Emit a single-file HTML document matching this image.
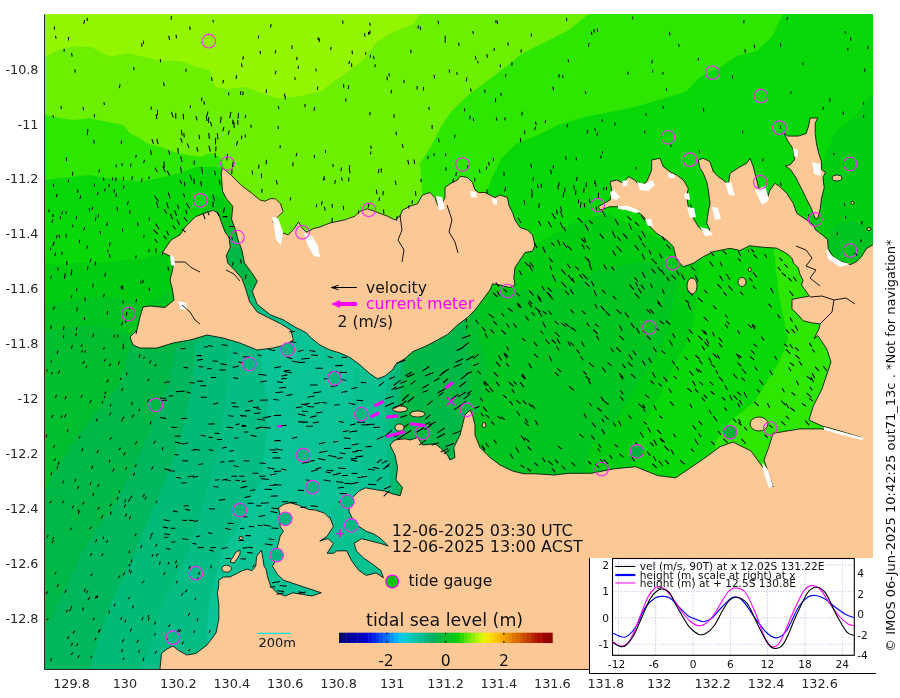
<!DOCTYPE html>
<html><head><meta charset="utf-8"><style>
html,body{margin:0;padding:0;background:#fff;width:900px;height:698px;overflow:hidden}
svg{display:block}
</style></head><body>
<svg width="900" height="698" viewBox="0 0 900 698">
<defs><clipPath id="pc"><rect x="45" y="14" width="828" height="655"/></clipPath></defs>
<g clip-path="url(#pc)">
<rect x="45" y="14" width="828" height="655" fill="#08d808"/>
<polygon fill="#2ee700" points="45.0,14.0 783.0,14.0 772.7,35.6 757.3,50.9 737.0,56.0 721.6,66.2 701.0,76.4 685.8,91.8 660.0,99.4 634.7,107.0 609.0,112.2 583.6,117.3 558.0,125.0 537.6,135.2 517.0,142.9 501.8,158.2 491.6,178.7 486.4,194.0 480.0,205.0 440.0,225.0 300.0,250.0 240.0,200.0 225.0,172.0 221.7,168.0 213.3,166.7 196.7,166.7 180.0,173.3 150.0,180.0 140.0,181.7 123.3,180.0 106.7,178.3 90.0,175.0 73.3,176.7 60.0,178.3 45.0,180.0"/>
<polygon fill="#6cef00" points="45.0,14.0 588.7,14.0 568.0,30.4 547.8,40.7 522.0,53.4 507.0,66.0 486.4,81.6 466.0,96.9 450.7,112.2 440.4,127.6 430.2,148.0 420.0,163.3 422.5,195.0 420.0,215.0 330.0,235.0 290.0,245.0 260.0,215.0 235.0,190.0 223.3,166.0 220.0,156.7 210.0,153.3 200.0,156.7 186.7,155.0 173.3,151.7 160.0,146.7 146.7,143.3 140.0,138.3 130.0,133.3 123.3,125.0 106.7,121.7 90.0,118.3 73.3,120.0 60.0,118.3 45.0,115.0"/>
<polygon fill="#94f500" points="45.0,14.0 420.0,14.0 413.0,24.0 394.7,31.0 376.0,42.7 362.0,61.0 343.0,75.0 320.0,91.7 301.0,96.0 278.0,98.7 264.0,94.0 245.0,87.0 226.7,89.0 215.0,87.0 210.0,70.7 194.0,66.0 180.0,61.0 161.0,61.0 142.7,56.7 128.7,53.0 110.0,56.7 91.0,47.0 72.7,46.4 58.7,49.7 45.0,56.7"/>
<polygon fill="#00cd12" points="45.0,264.0 101.8,262.4 145.0,258.0 165.0,250.0 202.0,212.0 212.0,194.0 225.0,200.0 300.0,260.0 480.0,260.0 536.0,245.0 572.7,223.0 607.0,213.0 650.0,235.0 700.0,250.0 760.0,240.0 800.0,235.0 818.0,200.0 825.0,156.0 835.0,132.4 855.4,115.5 873.0,91.8 873.0,669.0 45.0,669.0"/>
<polygon fill="#00c41f" points="45.0,304.5 62.6,302.6 81.2,298.9 99.9,296.1 118.5,298.0 131.5,300.8 142.7,306.4 170.0,290.0 210.0,228.0 224.0,219.0 240.0,214.0 400.0,300.0 510.0,290.0 540.0,290.0 575.0,285.0 600.0,268.0 640.0,262.0 680.0,262.0 677.0,291.6 673.5,326.0 663.2,360.4 646.0,394.8 632.2,429.2 628.8,480.0 628.8,669.0 45.0,669.0"/>
<polygon fill="#00bf2f" points="45.0,330.6 62.6,328.7 81.2,325.0 99.9,326.8 118.5,330.6 129.7,334.3 160.0,320.0 200.0,290.0 215.0,240.0 228.0,227.0 245.0,225.0 300.0,290.0 400.0,320.0 460.0,300.0 478.0,312.0 479.0,340.0 490.0,373.0 472.0,424.0 472.0,669.0 45.0,669.0"/>
<polygon fill="#00b846" points="45.0,490.0 50.0,480.0 73.0,442.0 120.0,382.0 130.0,345.0 150.0,310.0 200.0,300.0 220.0,250.0 230.0,236.0 245.0,236.0 300.0,300.0 440.0,320.0 465.0,318.0 470.0,360.0 470.0,400.0 471.0,424.0 470.0,669.0 45.0,669.0"/>
<polygon fill="#00b75e" points="44.0,630.0 55.0,610.0 82.0,552.0 116.0,502.0 145.0,442.0 168.5,382.0 175.0,350.0 200.0,320.0 235.0,287.0 258.0,285.0 300.0,310.0 400.0,330.0 406.0,355.0 402.0,400.0 400.0,445.0 400.0,669.0 44.0,669.0"/>
<polygon fill="#00bb75" points="90.0,669.0 108.0,610.0 135.0,552.0 156.0,502.0 180.0,442.0 193.0,382.0 195.0,343.0 220.0,330.0 240.0,300.0 262.0,296.0 330.0,330.0 398.0,345.0 402.0,358.0 398.0,400.0 396.0,440.0 396.0,669.0"/>
<polygon fill="#04bd85" points="140.0,669.0 150.0,650.0 160.0,610.0 188.0,552.0 204.0,502.0 220.0,442.0 227.6,382.0 228.0,342.0 250.0,315.0 262.0,309.0 275.0,312.0 350.0,345.0 395.0,350.0 394.0,366.0 390.0,400.0 390.0,440.0 392.0,669.0"/>
<polygon fill="#08c190" points="207.0,645.0 208.0,610.0 222.0,552.0 240.0,525.0 249.0,502.0 257.0,490.0 262.0,478.0 266.7,431.7 268.0,400.0 264.4,385.9 259.8,346.9 275.0,322.0 290.0,318.0 357.0,350.0 392.0,355.0 392.0,366.0 386.0,384.0 383.0,433.0 390.0,473.0 380.0,600.0 225.0,640.0"/>
<polygon fill="#0ac495" points="207.0,645.0 208.0,610.0 222.0,552.0 240.0,525.0 249.0,502.0 257.0,490.0 262.0,478.0 266.7,431.7 268.0,400.0 264.4,385.9 259.8,346.9 275.0,322.0 290.0,318.0 357.0,350.0 355.0,357.0 352.0,409.0 358.0,455.0 367.0,478.0 375.0,495.0 350.0,600.0 225.0,640.0"/>
<polygon fill="#00c41f" points="822.0,250.0 829.4,234.2 837.1,223.9 852.6,221.3 868.0,226.5 874.0,223.9 874.0,270.0 822.0,270.0"/>
<polygon fill="#00cd12" points="682.0,245.0 680.0,255.0 676.0,291.6 669.0,326.0 658.8,353.5 641.6,377.6 631.3,394.7 617.5,418.8 600.3,439.4 590.0,446.3 585.0,480.0 860.0,480.0 860.0,300.0 815.0,260.0 760.0,240.0"/>
<polygon fill="#08d808" points="702.0,245.0 700.0,250.0 698.0,300.0 690.0,335.0 675.0,365.0 660.0,395.0 645.0,425.0 635.0,450.0 630.0,480.0 860.0,480.0 860.0,300.0 815.0,260.0 760.0,240.0"/>
<polygon fill="#2ee700" points="772.0,240.0 773.7,248.7 778.4,291.6 788.0,339.4 778.4,363.3 754.6,401.6 730.7,420.7 716.3,439.8 711.6,480.0 860.0,480.0 860.0,300.0 815.0,260.0"/>
<g fill="#fcc996" stroke="#000" stroke-width="0.8" stroke-linejoin="round">
<polygon points="213.5,210.3 205.8,212.8 195.5,216.7 190.3,221.9 185.2,227.0 180.0,234.8 171.0,240.0 167.5,245.0 162.5,252.5 170.0,256.0 174.0,261.0 172.5,270.0 170.0,280.0 172.5,290.0 174.0,300.0 165.0,307.5 150.0,306.0 143.0,307.0 140.0,317.0 137.0,330.0 130.0,337.0 133.0,345.0 140.0,348.0 157.0,348.0 173.0,343.0 190.0,340.0 207.0,335.0 223.0,338.0 240.0,343.0 257.0,350.0 273.0,348.0 285.0,345.0 293.4,340.0 290.9,330.1 280.5,323.7 267.7,317.3 257.3,312.1 249.6,301.8 245.7,288.9 241.9,278.6 235.4,270.9 227.7,263.1 226.4,255.4 230.3,247.7 229.0,237.3 225.1,232.2 221.2,221.9 218.7,214.1"/>
<polygon points="222.5,167.7 231.6,175.5 241.9,185.8 252.2,193.5 259.9,200.0 265.0,201.2 270.2,198.7 275.4,198.7 280.5,203.8 283.1,211.6 278.0,216.7 272.8,221.9 280.5,232.2 288.3,234.8 293.4,229.6 298.6,221.9 301.2,227.0 306.3,232.2 314.1,228.3 320.0,227.0 330.0,223.0 344.0,220.0 347.5,218.8 355.0,216.2 360.0,211.2 367.5,208.8 377.5,212.5 387.5,216.2 395.0,220.0 400.0,216.2 402.5,210.0 410.0,206.2 417.5,203.8 422.5,195.0 430.0,192.5 435.0,197.5 437.5,205.0 440.0,207.5 445.0,197.5 445.0,187.5 450.0,183.8 457.5,180.0 460.0,176.2 467.5,177.5 472.5,182.5 475.0,190.0 478.8,192.5 485.0,192.5 490.0,195.0 495.0,197.5 500.0,195.0 507.5,197.5 508.8,205.0 512.5,212.5 515.0,220.0 520.0,227.5 527.5,230.0 532.5,235.0 535.0,245.0 532.5,251.2 525.0,252.5 520.0,260.0 515.0,267.5 513.8,277.5 515.0,285.0 510.0,287.5 500.0,285.0 492.5,283.8 490.0,290.0 482.5,300.0 475.0,310.0 467.5,317.5 457.5,325.0 447.5,334.5 437.5,340.0 425.0,346.5 413.0,351.5 405.0,358.5 396.0,364.0 392.5,370.0 385.0,376.0 377.5,378.8 370.0,373.8 360.0,365.0 350.0,357.5 340.0,353.0 330.0,350.0 320.0,345.0 310.0,337.0 306.3,332.7 296.0,327.6 283.1,319.8 270.2,314.7 257.3,304.4 252.2,291.5 257.3,281.2 252.2,273.4 244.5,263.1 241.9,250.2 238.0,239.9 235.4,229.6 231.6,219.3 232.8,206.4 226.4,198.7 222.5,191.0 221.2,172.9"/>
<polygon points="160.0,669.0 161.5,653.4 167.0,649.0 173.0,646.0 178.7,650.6 187.0,655.0 196.0,653.4 207.0,645.0 216.0,633.0 218.8,619.0 218.8,604.7 217.4,593.0 218.8,584.6 218.7,580.2 223.5,577.0 229.8,577.0 236.1,573.9 242.4,570.7 247.1,569.1 251.9,570.7 255.8,566.0 256.6,556.5 261.3,550.2 262.9,558.1 264.0,566.0 266.0,569.1 267.6,577.0 270.8,586.5 277.1,592.8 285.0,596.0 292.9,592.8 302.3,594.4 311.8,596.0 321.3,592.8 311.8,589.6 302.3,586.5 292.9,583.3 283.4,580.2 277.1,573.9 272.4,566.0 277.1,558.1 277.1,548.6 278.7,542.3 280.2,536.0 283.4,531.3 280.2,526.5 279.5,513.9 278.7,507.6 283.9,504.3 290.2,502.8 298.7,505.3 309.2,509.6 315.0,510.0 324.5,513.1 329.2,517.8 346.5,503.6 352.8,497.3 359.1,491.0 365.4,487.9 374.9,489.5 384.4,491.0 393.8,494.2 400.1,495.8 402.5,487.5 396.0,480.0 397.5,467.5 395.0,455.0 390.0,445.0 395.0,440.0 405.0,438.8 410.0,440.0 417.5,437.5 422.5,445.0 435.0,443.8 440.0,447.5 447.5,455.0 450.0,460.0 455.0,457.5 453.8,447.5 460.0,435.0 462.5,425.0 465.0,415.0 470.0,410.0 472.5,415.0 475.0,425.0 475.0,435.0 480.0,447.5 490.0,457.5 500.0,465.0 512.5,471.0 524.0,473.8 535.0,473.8 554.0,475.0 569.0,473.3 591.0,473.3 613.0,469.0 635.6,466.7 657.8,475.6 675.6,477.8 702.0,460.0 720.0,446.7 733.0,442.0 751.0,451.0 764.0,468.9 773.0,486.7 764.0,460.0 769.0,446.7 773.0,433.3 800.0,428.9 822.0,428.9 840.0,433.3 862.0,437.8 840.0,431.0 822.0,426.0 809.0,420.0 813.0,406.7 822.0,388.9 831.0,362.0 826.7,348.9 817.8,335.6 814.1,338.8 818.8,329.3 820.4,323.8 812.5,323.0 803.0,320.7 798.3,315.1 792.0,308.8 792.0,299.4 799.9,297.8 809.4,296.2 806.2,291.5 801.5,285.2 803.0,280.4 799.9,274.1 798.3,267.8 793.6,263.1 792.0,258.4 788.9,255.2 784.1,252.0 776.3,248.1 763.6,247.3 749.5,245.8 740.0,250.5 730.0,248.3 713.3,251.7 703.3,256.7 693.3,263.3 683.3,266.7 676.7,260.0 673.3,246.7 666.7,240.0 656.7,233.3 650.0,226.7 646.7,220.0 640.0,213.3 630.0,210.0 620.0,206.7 610.0,206.7 600.0,210.0 598.3,206.7 610.0,200.0 611.7,190.0 610.0,181.7 616.7,180.0 623.3,183.3 628.3,176.7 635.0,180.0 640.0,186.7 646.7,181.7 651.7,170.0 651.7,160.0 660.0,158.3 663.3,166.7 670.0,171.7 676.7,175.0 683.3,180.0 688.3,188.3 686.7,196.7 688.3,206.7 691.7,211.7 693.3,218.3 698.3,226.7 705.0,233.3 710.0,230.0 706.7,223.3 708.3,211.7 710.0,203.3 708.3,190.0 706.7,181.7 703.3,173.3 700.0,168.3 698.3,160.0 703.3,158.3 710.0,161.7 713.3,171.7 718.3,176.7 723.3,180.0 728.3,185.0 730.0,173.3 735.0,170.0 740.0,166.7 746.7,163.3 750.0,158.3 753.3,166.7 756.7,180.0 760.0,193.3 761.7,203.3 766.7,200.0 770.0,190.0 775.0,183.3 780.0,186.7 786.7,193.3 793.3,203.3 796.7,213.3 806.7,220.0 813.3,225.0 815.7,230.0 822.0,234.7 827.5,239.5 828.3,248.9 833.0,256.8 840.9,261.5 850.4,264.7 856.7,261.5 861.4,256.8 866.1,248.9 872.4,245.0 874.0,245.0 874.0,670.0 160.0,670.0"/>
<polygon points="810.0,118.0 817.7,118.0 815.2,123.2 815.2,133.5 816.5,143.9 819.0,154.2 821.6,161.9 821.6,169.7 825.5,172.3 822.9,177.4 824.2,187.7 821.6,198.1 820.3,208.4 817.7,218.7 815.2,218.7 811.3,208.4 806.1,198.1 801.0,187.7 795.8,177.4 790.6,169.7 785.5,165.8 790.6,164.5 794.5,159.4 793.2,149.0 788.0,141.3 784.2,133.5 788.0,136.1 798.4,136.1 806.1,133.5 808.7,125.8"/>
<polygon points="230.0,562.0 233.0,557.0 236.0,552.0 240.0,550.0 240.0,554.0 237.0,559.0 234.0,563.0"/>
<ellipse cx="226.6" cy="568.7" rx="4.8" ry="3.5"/>
<ellipse cx="241" cy="538" rx="2" ry="1.5"/>
<ellipse cx="852.5" cy="202.7" rx="1.5" ry="1.5"/>
<ellipse cx="869" cy="229" rx="2" ry="1.5"/>
<ellipse cx="749.8" cy="269.6" rx="1.5" ry="2"/>
<ellipse cx="400" cy="409" rx="7.5" ry="3"/>
<ellipse cx="417.5" cy="414" rx="7.5" ry="3"/>
<ellipse cx="399.5" cy="427.5" rx="4.5" ry="3.5"/>
<ellipse cx="484" cy="425" rx="2" ry="2.5"/>
<ellipse cx="692" cy="286" rx="5" ry="8"/>
<ellipse cx="742" cy="282" rx="4" ry="4.5"/>
<ellipse cx="759" cy="424" rx="9" ry="7"/>
<ellipse cx="837" cy="178" rx="5" ry="3"/>
</g>
<polygon fill="#08c190" points="329.6,516.7 333.3,526.5 327.1,536.2 319.8,541.1 328.0,538.5 333.3,543.6 327.1,553.3 333.3,553.3 336.9,550.9 346.7,550.9 351.6,560.7 358.9,570.5 366.3,575.4 376.0,572.9 383.4,577.8 380.9,570.5 371.1,563.1 363.8,558.2 356.5,550.9 354.0,543.6 361.4,538.7 371.1,541.1 380.9,543.6 388.3,546.0 380.9,538.7 373.6,533.8 366.3,531.3 358.9,526.5 354.0,521.6 349.1,511.8 349.1,503.2 347.0,499.0 338.0,502.0 327.0,512.0"/>
<polyline fill="none" stroke="#000" stroke-width="0.8" points="329.6,516.7 333.3,526.5 327.1,536.2 319.8,541.1 328.0,538.5 333.3,543.6 327.1,553.3 333.3,553.3 336.9,550.9 346.7,550.9 351.6,560.7 358.9,570.5 366.3,575.4 376.0,572.9 383.4,577.8 380.9,570.5 371.1,563.1 363.8,558.2 356.5,550.9 354.0,543.6 361.4,538.7 371.1,541.1 380.9,543.6 388.3,546.0 380.9,538.7 373.6,533.8 366.3,531.3 358.9,526.5 354.0,521.6 349.1,511.8 349.1,503.2"/>
<path d="M84.6 20.6L83.9 23.3M87.1 18.4L87.4 20.3M171.3 16.6L171.2 19.2M342.7 20.9L343.0 23.2M497.5 21.3L497.4 23.5M632.9 17.2L632.7 18.8M787.3 17.8L787.1 19.2M54.4 27.0L54.3 29.2M189.7 26.9L190.1 29.4M213.0 20.4L213.3 22.0M271.1 24.7L270.6 27.2M370.0 30.8L369.8 33.4M369.8 23.2L370.1 25.3M418.4 26.0L418.0 28.1M438.1 21.1L438.5 23.7M495.9 20.6L495.9 22.4M566.5 18.4L566.7 20.6M597.2 29.0L597.7 31.6M743.9 20.6L743.8 22.6M55.6 36.4L56.0 38.2M176.1 35.3L176.4 37.8M368.6 32.4L368.8 34.5M420.2 27.0L420.5 29.3M472.8 31.6L473.3 33.4M591.4 32.2L591.8 34.4M669.4 32.5L670.0 34.9M68.6 37.5L68.4 40.0M143.4 41.3L143.5 43.4M141.8 43.7L141.8 46.3M168.8 36.5L169.5 39.3M258.6 36.0L258.4 38.0M318.1 37.8L318.2 39.7M364.5 33.7L365.0 36.1M445.2 40.1L445.3 42.2M445.2 36.2L445.2 38.6M507.9 42.9L508.3 45.1M531.4 34.0L531.3 36.1M593.8 29.6L594.3 32.1M845.0 31.7L845.3 33.2M850.6 37.8L850.9 40.2M64.2 49.4L64.1 51.3M275.7 50.5L275.2 53.0M292.1 45.9L292.0 48.5M319.2 38.7L319.4 41.4M458.8 43.3L458.9 45.3M521.3 49.9L521.1 52.1M589.0 43.6L588.5 46.3M678.8 44.6L679.1 46.3M780.5 43.8L780.6 46.2M868.2 46.5L867.7 48.7M71.6 53.6L72.1 56.2M331.1 47.3L330.7 49.4M365.8 52.6L365.5 54.3M370.5 55.4L370.3 57.1M410.9 50.3L410.9 52.6M475.4 56.5L476.0 59.1M486.9 54.6L487.4 57.1M494.3 48.5L494.1 50.4M754.3 45.3L754.6 47.6M847.8 48.3L847.8 50.0M243.3 56.8L242.9 59.1M260.2 51.3L260.4 53.6M352.1 51.1L352.4 53.6M373.6 56.7L374.1 58.7M512.0 62.4L511.9 65.1M652.3 60.5L651.9 62.8M745.0 49.7L745.2 52.2M74.9 70.0L75.3 72.1M160.3 59.6L160.6 61.7M186.0 69.2L186.0 71.3M241.5 63.9L242.1 66.7M298.4 66.4L298.2 68.2M297.0 57.4L296.7 59.5M315.8 69.0L316.2 70.9M349.5 61.3L349.0 63.6M477.7 61.4L478.1 62.9M568.2 59.9L568.5 61.6M662.9 72.5L663.0 74.0M698.5 58.3L698.1 60.2M133.8 67.6L133.9 69.7M275.9 71.1L275.3 73.7M351.6 63.8L351.7 66.6M375.2 64.8L375.0 66.7M389.0 73.8L389.3 75.8M449.3 70.1L449.5 72.1M500.3 64.9L500.3 66.6M559.2 74.7L558.9 77.1M562.8 75.4L562.8 77.5M802.9 63.0L803.0 64.6M211.6 77.6L212.1 80.3M223.4 80.4L222.9 83.0M236.5 75.8L236.3 77.4M294.9 77.7L295.1 79.3M387.2 77.0L387.2 79.6M404.1 80.4L404.0 82.6M434.1 75.4L434.6 78.1M456.8 72.7L457.1 74.3M505.8 74.5L505.5 76.6M628.1 72.2L628.1 74.0M652.7 70.3L652.6 71.9M864.9 69.1L864.8 71.3M236.4 76.6L236.1 78.5M417.1 86.6L417.1 88.9M466.8 78.1L466.3 80.9M732.6 76.1L732.5 78.3M120.0 84.9L119.4 87.7M163.6 82.9L164.2 85.7M228.6 92.9L228.7 94.8M243.1 92.0L242.9 94.8M266.4 89.7L266.2 92.4M317.7 87.0L317.4 89.5M343.6 84.4L343.7 87.1M348.7 85.9L348.3 88.6M391.4 90.4L391.1 92.8M423.5 87.5L423.4 89.9M470.6 88.9L471.1 91.2M484.9 90.1L484.8 92.3M552.9 87.1L553.4 89.8M585.4 91.8L585.7 93.5M666.5 88.8L666.5 90.2M790.9 91.7L791.0 93.5M104.0 102.6L104.3 104.5M203.9 101.8L204.4 104.2M240.8 91.6L240.6 94.5M284.6 94.1L284.3 95.8M285.4 96.3L285.1 98.8M345.8 99.0L345.8 100.9M501.0 93.6L501.1 95.2M829.8 98.8L830.0 101.3M83.1 107.5L83.5 109.9M151.1 107.1L151.3 109.1M201.9 98.0L201.6 100.6M278.4 106.7L278.9 108.7M305.0 104.6L305.0 106.8M464.6 108.7L464.6 110.8M495.6 98.9L495.5 101.6M703.4 108.6L703.7 111.1M823.2 107.5L823.2 109.2M863.3 102.8L863.2 104.3M61.0 106.5L61.3 108.4M94.3 114.8L94.5 116.8M157.5 110.3L157.5 114.7M190.3 105.9L190.4 107.5M207.8 112.0L207.2 115.2M238.5 113.6L238.0 118.2M314.6 107.6L314.0 110.3M428.8 107.4L429.2 109.3M522.2 112.3L521.9 115.0M663.3 106.4L663.2 108.1M53.1 115.6L53.5 117.3M156.2 114.9L156.8 118.6M171.5 112.4L173.1 116.9M175.7 113.4L175.8 118.2M183.1 114.3L183.6 118.9M196.0 116.6L197.0 119.9M206.4 115.7L206.9 120.5M208.6 117.7L208.7 122.4M221.1 117.2L220.5 122.5M230.9 112.4L229.8 117.6M237.8 120.6L237.9 124.3M245.7 115.5L245.3 117.3M370.0 112.6L369.8 115.0M393.9 114.7L394.2 117.2M470.2 116.2L469.8 118.7M496.4 118.2L496.9 120.1M505.2 117.8L504.8 119.8M535.6 122.1L536.1 124.4M843.2 112.0L843.5 114.4M863.6 115.8L863.6 117.3M210.7 122.3L211.5 126.0M232.9 120.3L232.8 123.6M233.8 122.3L234.2 127.6M250.9 125.2L251.2 127.1M473.3 118.6L473.6 120.3M535.4 127.2L534.8 129.5M545.6 120.7L545.2 122.7M567.5 124.6L567.0 126.9M594.9 128.3L595.3 130.6M602.3 119.9L602.1 121.4M614.9 123.0L614.9 124.8M646.0 113.5L646.2 115.3M87.4 132.9L87.3 134.6M181.4 130.3L182.1 135.1M223.8 127.3L223.0 130.7M229.2 130.8L228.4 134.0M245.3 135.0L245.4 137.0M278.1 126.5L278.3 128.5M432.1 125.6L432.1 128.4M524.7 131.1L524.6 133.8M742.6 131.0L742.6 132.6M780.3 126.1L780.7 128.5M87.7 129.4L87.7 131.4M93.9 140.4L94.1 143.0M121.4 141.0L121.4 143.4M183.9 133.5L184.2 137.0M199.1 135.3L199.6 138.6M208.8 133.5L209.3 138.5M217.3 133.8L217.9 139.0M241.8 136.1L241.5 138.7M396.0 132.1L396.4 134.6M438.5 138.9L439.1 141.6M454.9 135.0L454.8 137.2M587.7 130.4L587.2 133.2M644.8 131.3L644.6 132.9M152.1 139.6L153.3 143.3M157.0 139.4L157.9 143.6M180.8 138.7L182.2 142.1M187.4 144.0L188.8 147.2M215.6 138.4L215.5 143.9M237.4 141.7L236.5 145.0M280.2 145.8L280.1 147.8M520.5 138.8L520.6 141.7M597.6 132.6L597.1 135.2M670.9 145.1L670.9 146.5M150.6 150.3L151.4 154.4M168.7 150.9L169.7 154.1M177.9 148.4L178.3 152.9M196.9 147.7L197.8 151.0M209.0 146.1L210.2 151.2M216.0 147.1L215.7 150.8M370.9 146.1L371.1 148.2M402.4 144.6L403.0 147.3M434.2 153.6L434.0 155.3M602.4 151.7L602.5 153.1M699.3 150.6L699.5 152.1M136.2 155.4L135.8 157.2M180.7 157.0L181.9 161.3M214.9 153.4L215.7 157.2M227.5 154.6L226.8 159.9M266.4 160.2L266.2 163.7M296.8 153.5L296.2 155.8M314.4 155.4L314.5 157.6M325.5 150.6L325.5 152.5M370.9 152.0L370.5 153.9M414.1 160.0L414.6 163.3M428.1 156.6L427.8 158.6M445.6 153.7L445.7 155.7M565.7 156.7L566.1 159.2M762.9 159.0L762.7 160.9M66.4 157.8L66.5 160.6M144.4 160.4L143.7 162.6M164.0 161.9L164.2 167.3M194.2 160.9L194.2 164.3M233.1 162.0L232.6 166.6M407.9 160.4L408.6 163.9M468.0 165.7L467.7 168.3M488.8 162.6L489.1 165.0M493.4 158.6L493.3 160.8M530.9 164.1L531.5 167.6M553.5 165.6L553.3 168.1M576.2 157.9L576.4 159.9M601.1 156.0L600.8 157.9M834.1 153.3L833.7 154.7M99.5 169.8L99.0 172.1M116.2 165.0L116.2 166.8M122.1 163.7L122.1 165.5M130.9 164.2L130.6 166.3M155.2 168.3L157.1 171.6M163.0 166.7L165.0 171.5M180.5 167.1L181.6 172.7M201.5 167.7L202.6 173.1M232.0 170.1L231.7 173.6M252.1 171.0L252.6 173.9M259.0 165.1L258.7 168.0M293.0 162.8L292.9 165.7M332.9 164.4L333.1 166.5M341.5 168.0L341.1 170.7M349.7 165.9L349.3 168.4M381.3 168.8L381.2 171.9M445.8 167.7L446.0 170.0M486.8 167.1L486.4 169.2M503.9 172.2L504.1 175.1M72.7 172.3L72.6 175.0M103.5 178.2L103.8 180.2M112.7 178.1L112.6 179.8M123.5 177.3L123.4 180.2M132.3 176.9L131.9 179.6M149.3 177.0L148.8 178.7M167.3 171.1L169.4 174.9M190.2 175.4L191.7 179.7M214.6 171.1L215.4 174.7M261.5 174.0L261.6 177.5M324.2 176.6L323.4 180.1M341.5 177.9L342.2 180.4M349.4 169.2L349.9 172.8M378.8 169.6L378.4 172.6M453.6 178.5L452.9 182.1M456.3 172.7L456.0 175.5M479.3 169.9L479.9 172.3M533.5 178.0L533.1 180.3M550.7 170.2L551.2 173.8M635.8 167.4L636.1 169.0M780.7 182.9L781.1 185.1M53.4 184.4L53.6 186.2M68.3 180.1L68.5 181.7M94.4 184.0L94.4 186.1M116.1 177.9L115.7 180.7M142.0 179.0L141.3 181.6M180.1 180.3L181.3 183.3M184.6 182.5L184.8 185.7M194.1 179.3L194.1 183.7M200.9 181.6L201.4 185.8M219.2 180.2L220.0 184.3M276.4 180.7L277.1 184.2M324.0 177.4L324.4 179.5M335.3 180.5L334.8 183.3M348.7 178.1L348.7 181.0M395.3 181.0L395.9 184.4M420.9 179.4L421.1 181.6M474.8 178.6L474.7 181.1M541.2 184.2L541.3 187.5M559.1 182.9L558.8 185.4M577.1 177.4L576.5 180.3M595.0 180.8L594.7 183.5M606.7 187.4L606.3 189.4M639.2 181.9L638.7 183.9M104.9 189.1L104.8 190.8M109.0 184.6L109.2 186.7M123.8 186.1L123.4 188.3M505.6 187.5L504.8 190.9M537.5 184.3L538.1 187.6M558.2 189.0L558.0 185.5M574.3 189.0L573.8 185.7M586.1 186.4L586.4 182.7M595.9 186.3L595.4 183.4M57.1 194.5L56.5 196.7M78.0 190.2L77.5 192.3M98.0 192.6L97.4 194.5M114.3 189.6L114.1 192.2M116.5 193.5L116.2 196.3M154.7 196.2L158.1 200.8M168.6 193.1L169.8 198.0M183.5 193.8L184.6 196.9M213.0 195.1L214.5 200.3M261.9 189.2L261.9 192.3M376.4 190.0L376.9 193.7M383.3 191.7L382.9 194.8M415.4 191.6L415.9 195.2M487.1 189.9L487.1 193.1M531.9 197.0L532.2 193.4M532.2 192.1L531.4 189.3M564.9 191.7L564.7 188.2M575.6 194.4L575.8 190.5M583.7 192.2L584.0 188.5M603.8 187.5L603.5 189.6M80.7 196.0L79.9 198.7M128.2 201.9L127.5 204.2M156.6 202.2L158.0 207.4M166.7 202.7L168.2 207.9M213.1 202.2L213.1 206.8M290.6 197.9L290.2 200.0M316.6 204.5L316.3 206.7M379.5 197.8L379.1 200.3M412.3 200.9L412.1 203.2M563.2 196.9L563.7 192.9M578.5 202.8L578.5 199.7M589.9 202.5L589.5 199.0M598.2 197.7L598.6 193.4M691.4 208.9L690.8 204.9M844.5 203.8L844.6 205.6M89.3 208.6L89.5 211.3M92.7 207.2L92.2 209.2M117.1 207.3L117.4 209.9M129.8 210.5L129.8 213.2M164.3 209.6L166.6 213.3M177.6 205.1L178.5 208.6M186.6 203.5L189.6 208.3M224.4 208.2L223.5 212.4M322.1 201.8L321.6 204.7M324.5 207.3L325.1 210.1M332.2 204.5L332.2 207.1M343.3 206.4L343.6 209.5M358.5 211.0L358.7 213.3M368.8 203.7L368.2 207.0M408.9 205.8L408.7 208.0M524.8 204.2L524.1 201.0M538.8 207.3L539.3 203.7M580.4 206.8L581.1 202.7M584.8 206.8L584.3 203.6M596.7 209.9L596.0 207.1M49.1 209.7L48.9 211.8M52.9 214.4L52.9 216.5M62.6 211.9L61.8 214.1M66.2 211.8L66.0 213.5M98.4 214.7L98.3 216.9M170.5 214.3L172.5 218.7M174.8 211.0L176.4 215.4M185.8 210.3L186.8 213.5M203.2 213.5L204.9 218.6M207.6 211.5L209.0 214.7M217.5 212.2L218.6 215.7M383.6 210.0L383.8 213.4M397.2 216.6L396.6 220.0M557.3 213.8L556.5 210.2M561.7 211.1L560.6 207.1M845.5 216.6L845.9 218.2M861.9 221.5L861.9 223.9M52.6 219.9L52.1 222.2M60.4 216.6L60.4 218.7M76.5 216.5L76.4 218.7M95.8 217.5L95.5 220.1M137.7 222.7L138.0 225.5M149.4 218.0L149.3 219.9M177.1 219.9L179.4 224.5M184.4 217.8L186.7 220.9M223.2 216.6L226.9 216.6M332.2 218.3L332.1 221.4M555.3 218.5L552.1 213.4M562.6 216.8L560.4 211.6M582.2 222.4L578.2 218.3M605.2 216.6L602.4 211.3M631.1 220.0L627.7 216.7M645.0 220.8L641.4 215.8M808.9 214.4L808.9 216.8M72.9 225.1L72.5 226.7M84.6 227.6L83.7 230.0M107.5 222.5L106.7 225.3M155.9 224.1L158.9 228.9M173.2 226.1L175.1 228.8M229.3 226.5L233.6 226.5M275.8 224.0L276.1 226.5M520.9 222.5L518.4 218.4M540.8 225.4L538.6 221.4M551.6 227.0L548.4 222.0M562.6 227.6L560.5 222.9M592.3 223.5L589.2 220.7M618.0 224.5L615.4 219.8M638.7 225.5L635.4 222.5M57.1 235.5L56.5 237.7M66.1 234.5L66.1 237.0M100.1 231.7L100.4 233.7M122.5 228.8L122.7 231.0M144.0 235.8L143.7 237.4M153.5 229.9L157.4 233.5M166.8 231.2L168.6 234.9M182.4 229.4L185.3 231.9M565.5 231.1L563.9 227.6M588.3 230.4L585.2 224.9M631.3 228.9L629.2 223.9M837.3 233.0L837.2 234.5M861.3 239.9L860.9 241.5M54.2 242.2L53.6 244.1M59.2 235.1L59.5 237.3M79.6 240.2L79.4 242.7M155.2 239.5L157.0 242.2M164.1 236.1L166.2 238.8M228.6 237.1L232.6 238.9M585.6 241.6L584.0 237.9M603.3 238.1L600.0 234.2M615.2 237.4L612.6 231.7M620.5 240.8L617.7 237.2M627.2 238.3L623.3 233.8M641.3 240.0L638.8 235.9M645.0 236.8L642.1 231.4M664.5 240.2L662.3 236.9M50.7 248.2L50.4 249.9M53.7 242.7L53.0 245.3M87.4 246.2L86.8 248.4M110.1 243.0L109.5 245.8M156.0 249.0L155.9 251.9M536.8 247.4L534.3 243.4M554.3 245.7L551.7 243.2M559.9 245.1L557.8 240.2M566.4 247.6L563.3 242.5M584.4 242.2L581.5 238.8M645.0 246.8L642.3 243.2M670.2 248.4L666.6 244.9M55.5 253.0L54.9 255.6M61.8 252.3L62.0 254.3M107.8 250.2L108.0 251.8M149.0 249.8L149.1 251.7M162.4 252.5L162.6 254.8M545.2 252.2L542.9 247.2M571.3 249.7L567.3 245.9M584.2 248.5L582.1 244.4M589.5 249.0L586.5 245.9M615.4 255.3L612.8 251.0M621.3 251.3L617.0 246.5M638.5 250.0L634.8 245.3M650.9 254.0L649.2 250.2M726.1 253.9L723.0 250.9M740.6 255.7L738.3 251.6M748.3 249.9L748.6 251.6M753.7 252.0L751.1 249.2M857.0 255.2L854.5 253.2M90.9 259.1L90.0 261.8M109.7 254.5L110.0 257.1M136.2 255.8L135.7 257.6M233.1 262.7L232.6 264.8M240.6 259.8L241.2 263.2M588.5 260.7L585.0 257.2M644.4 259.1L642.3 254.2M661.8 257.9L659.8 254.3M713.5 255.6L710.8 251.7M740.4 260.8L738.1 258.5M757.0 258.0L753.8 254.8M766.7 257.5L764.9 254.7M782.0 260.4L779.8 258.1M57.9 268.1L58.2 269.9M66.8 261.6L66.9 264.5M87.9 267.0L87.5 269.4M95.4 262.1L95.2 264.9M168.1 267.4L168.4 270.1M528.7 266.0L525.0 262.3M533.5 266.9L530.2 262.7M552.4 261.8L549.3 258.0M570.2 268.0L567.4 264.2M590.4 264.4L588.2 259.3M656.2 263.5L651.9 259.2M712.9 266.2L709.9 261.7M722.0 265.8L720.2 262.6M787.4 267.3L784.7 264.5M65.2 273.8L65.0 276.6M71.6 270.0L71.8 272.0M71.4 272.7L71.0 274.9M105.3 273.4L105.0 275.9M246.0 275.2L245.3 278.4M521.4 274.6L519.6 271.0M532.2 270.7L529.4 265.3M551.6 269.9L550.0 265.6M565.3 273.9L561.5 269.6M578.7 269.7L575.6 266.8M591.8 269.7L589.4 265.0M606.4 269.0L603.9 265.1M614.0 269.9L611.5 266.9M655.1 272.8L651.5 269.0M660.3 270.6L657.9 267.3M664.4 274.4L661.5 270.5M678.9 274.7L677.1 271.1M694.7 270.2L691.1 266.5M780.4 270.3L778.2 267.4M51.4 276.1L50.8 278.1M64.4 276.6L64.5 278.3M143.1 280.2L143.0 282.5M572.0 280.5L568.4 275.4M582.5 278.5L579.8 275.1M587.2 278.9L582.8 274.3M637.6 280.9L634.6 277.8M645.0 277.4L642.4 272.4M669.2 280.6L666.7 277.3M675.4 278.9L671.9 275.4M684.4 279.6L681.3 274.3M722.6 280.3L719.9 276.1M729.5 279.0L726.8 274.6M752.0 280.9L749.4 278.2M756.6 276.8L753.3 272.7M785.5 275.9L782.3 273.1M791.2 280.8L788.6 278.2M796.3 280.9L793.4 277.0M92.8 284.2L93.0 286.8M121.2 286.3L121.5 288.7M122.6 286.2L123.0 289.0M140.7 281.1L140.9 283.4M149.2 288.1L149.5 290.5M498.5 286.1L496.1 282.9M555.6 281.3L552.7 275.5M566.0 286.9L561.7 282.3M574.3 282.4L572.3 278.4M589.0 286.1L585.2 282.4M593.6 285.8L591.5 281.4M637.6 286.0L635.7 282.7M652.0 287.3L650.5 283.9M698.0 281.6L695.3 275.8M721.3 288.2L717.6 284.4M76.8 289.0L76.4 290.6M104.1 294.6L103.6 296.6M506.8 291.9L503.8 289.1M544.3 289.9L542.1 286.5M551.4 291.5L547.8 287.9M568.5 294.4L565.5 291.2M573.2 293.9L570.6 289.5M605.2 293.1L602.4 290.1M633.7 289.5L629.7 284.9M641.1 292.9L638.5 288.6M644.3 288.9L641.0 285.2M664.2 293.5L662.4 289.4M706.9 292.8L704.8 290.6M732.2 290.2L728.7 286.0M755.5 288.6L753.2 286.1M773.2 292.7L770.7 288.2M71.8 295.8L71.2 297.6M85.0 297.9L85.1 300.5M136.5 299.6L136.0 301.6M496.9 296.4L493.3 293.1M499.7 295.7L497.2 291.1M519.4 295.7L516.5 293.2M533.2 295.1L529.5 290.8M540.5 298.9L537.5 295.7M550.9 296.0L547.0 292.4M552.5 298.9L548.7 294.3M596.5 295.9L594.1 290.7M616.0 299.1L613.0 296.2M639.2 297.9L635.2 293.7M692.4 295.4L688.7 291.3M726.4 295.5L723.9 292.6M742.8 294.7L740.6 292.1M793.0 295.5L789.7 291.3M54.2 307.0L53.5 309.3M123.0 301.1L123.2 302.8M129.3 307.6L129.6 309.2M521.0 307.7L518.6 303.8M531.8 303.7L529.4 300.9M541.3 301.5L538.4 298.1M659.6 303.7L657.9 301.0M661.8 306.6L658.0 303.1M688.7 303.1L686.0 300.5M702.3 301.6L698.5 298.1M77.2 308.2L76.7 310.6M107.5 311.6L107.3 314.3M126.8 312.4L126.4 315.2M512.4 311.4L508.4 308.5M519.3 306.9L517.3 303.6M531.5 306.7L528.4 303.0M539.6 311.4L535.6 307.8M546.2 313.9L543.1 311.5M551.3 314.1L548.6 311.0M573.6 313.1L571.0 310.1M585.1 313.6L582.2 311.1M596.9 308.0L595.2 304.6M604.4 310.5L601.1 306.4M650.3 313.2L646.9 309.4M690.5 309.2L688.3 304.7M716.1 308.7L713.4 305.8M771.4 307.1L768.9 304.1M84.3 317.6L84.5 319.6M125.6 320.6L125.8 322.5M466.5 319.3L466.2 321.5M493.4 317.5L489.0 314.2M503.9 316.2L501.8 313.5M534.4 315.1L531.9 312.5M541.7 316.0L538.8 311.8M609.4 315.4L606.1 311.7M620.8 313.4L616.8 309.8M628.5 317.0L625.2 313.1M653.7 313.5L650.1 309.4M727.7 317.7L725.4 315.0M779.9 317.8L777.8 314.9M122.6 322.1L121.7 324.8M466.9 325.5L466.7 327.9M478.2 323.3L475.9 320.2M496.7 324.6L493.6 321.3M516.3 327.2L513.7 323.8M528.4 320.2L525.6 316.4M558.3 324.2L555.0 321.4M569.0 326.5L565.4 323.5M589.0 326.0L587.1 323.1M598.2 326.3L595.4 324.2M663.7 323.9L660.0 320.9M669.8 324.3L666.2 321.0M707.6 320.7L704.0 317.2M729.1 324.0L727.0 321.6M755.3 326.8L752.6 324.7M792.2 321.2L790.2 317.9M51.2 326.1L50.8 328.6M64.0 326.8L63.5 329.3M76.8 327.8L76.1 329.8M93.6 334.1L92.7 336.6M136.6 331.4L136.1 333.4M294.5 331.6L289.9 331.8M485.2 330.8L482.3 327.5M508.8 327.0L506.6 323.7M545.3 326.9L543.0 322.2M565.2 326.2L561.4 323.2M575.4 330.7L571.2 327.5M597.2 333.5L593.5 330.0M622.0 330.4L619.9 326.1M634.0 327.6L631.3 323.4M645.6 332.9L643.0 331.0M658.5 330.2L655.5 327.9M692.3 333.4L689.0 329.7M704.7 333.3L702.3 330.2M727.6 328.0L725.4 324.5M739.6 333.7L737.6 330.5M751.2 327.5L748.5 324.8M754.8 328.8L752.4 326.0M788.9 332.8L786.2 329.8M797.7 330.4L795.4 325.9M63.6 335.8L63.5 337.5M76.2 333.7L75.9 335.6M114.4 335.2L114.0 337.1M118.0 334.9L117.8 337.0M469.9 335.4L462.2 338.3M487.2 337.4L485.2 333.9M494.0 333.1L490.6 329.7M505.5 333.9L502.0 330.5M543.0 333.8L541.0 331.2M559.2 336.2L555.4 332.6M598.8 339.5L596.9 336.2M623.5 339.8L619.8 336.1M639.3 332.9L636.5 328.3M674.7 337.4L672.8 333.9M706.4 334.6L704.7 331.2M714.2 335.7L712.7 332.8M763.8 339.9L761.6 337.1M794.9 332.8L791.8 329.5M122.9 345.9L123.5 344.2M207.7 346.8L204.5 346.9M227.1 345.4L222.2 344.7M295.8 342.5L291.0 341.8M468.5 342.9L463.7 346.2M525.2 340.6L522.3 338.4M549.1 343.6L545.6 339.5M555.5 343.0L552.0 340.0M559.8 343.4L557.4 339.0M584.1 346.2L581.8 342.0M650.4 339.5L646.9 335.7M672.2 345.0L669.5 340.7M689.8 341.9L687.6 338.0M702.2 339.8L698.6 336.2M708.6 343.4L706.4 339.4M721.7 341.4L719.1 337.8M756.9 346.7L753.8 344.2M787.4 346.6L784.8 344.4M57.1 353.3L57.8 351.1M71.5 348.1L72.3 345.9M81.0 346.2L82.1 345.0M84.7 352.2L85.7 350.7M103.3 349.0L104.2 347.7M122.9 348.8L123.9 346.8M184.8 348.4L181.2 348.7M212.2 346.3L208.4 345.6M274.7 350.6L269.0 349.4M303.0 350.3L298.3 351.4M314.9 351.5L309.6 350.4M463.2 347.2L457.1 350.5M508.4 350.1L506.9 347.0M536.9 346.0L534.4 342.6M559.0 350.0L556.7 346.7M570.2 345.9L568.1 342.0M573.7 345.7L570.7 342.7M613.2 351.3L611.0 348.3M620.3 351.4L616.8 348.0M656.1 351.7L653.6 347.7M704.4 349.7L702.3 346.3M708.4 346.1L704.6 342.4M721.7 346.7L719.1 343.4M792.6 348.1L790.1 344.5M798.6 350.5L795.4 347.7M811.4 346.2L809.5 343.4M814.5 352.0L812.4 349.5M81.9 351.9L82.4 350.5M139.3 357.0L140.0 354.8M143.5 358.3L144.5 357.2M201.2 355.6L197.3 355.6M237.1 353.3L233.7 353.0M248.6 356.7L243.2 357.0M261.2 355.8L258.1 355.1M291.5 358.4L287.1 357.4M309.3 358.3L301.8 358.9M317.6 355.4L311.5 354.9M332.4 357.7L328.2 356.7M346.6 357.5L342.1 357.3M462.6 359.0L455.8 362.3M473.2 356.3L466.7 360.0M478.4 354.4L473.6 358.3M506.6 358.0L504.0 353.5M507.8 356.7L505.2 353.9M537.5 357.2L534.6 354.2M579.4 353.1L576.8 350.1M632.1 359.2L629.1 354.8M636.0 355.0L633.1 351.2M664.9 353.3L661.6 350.9M699.4 358.8L695.7 355.5M716.7 357.3L713.2 353.6M739.6 358.5L736.6 354.1M741.1 357.2L738.4 355.1M753.7 359.5L750.6 356.8M754.5 353.9L751.4 350.5M789.9 353.4L786.3 349.7M799.4 358.6L795.9 355.5M51.0 362.2L51.5 360.8M82.7 363.5L84.2 361.6M104.3 361.0L105.4 359.6M118.5 364.2L119.3 361.9M149.5 362.9L151.0 361.0M202.2 359.4L197.5 360.2M217.3 361.2L213.1 360.9M226.2 364.7L220.8 363.8M242.6 362.7L239.0 361.9M298.6 362.3L292.6 361.3M304.7 362.3L298.9 362.4M342.4 365.4L335.4 365.7M405.1 360.2L397.2 363.1M461.1 364.0L454.2 367.0M478.6 363.6L473.5 365.4M501.3 360.0L498.8 355.7M551.7 361.1L549.3 356.5M583.0 359.8L580.8 356.5M645.0 365.1L642.6 361.0M651.3 362.4L648.9 358.4M674.5 364.1L672.6 361.3M687.3 359.5L685.0 357.2M702.1 364.0L699.5 360.5M711.4 362.3L709.0 358.3M719.6 358.9L717.4 354.8M776.5 359.1L774.9 356.5M793.7 365.6L790.3 362.8M801.6 364.9L799.3 361.6M58.2 373.1L59.5 371.0M86.1 367.3L86.8 365.9M109.6 365.5L110.4 363.9M154.9 366.0L155.9 364.6M187.8 367.9L184.0 367.3M202.7 366.9L199.0 366.6M210.9 368.8L207.6 368.6M225.3 370.1L220.1 369.9M238.3 366.2L233.2 367.2M280.4 366.7L274.7 367.8M289.8 370.3L284.7 370.7M322.3 368.3L316.1 368.2M337.0 371.4L329.8 372.5M346.5 372.6L339.4 372.2M411.3 372.2L405.8 375.7M428.8 366.8L423.0 370.7M445.5 371.2L440.0 375.6M448.4 369.2L442.0 373.2M471.6 371.9L466.3 373.7M500.0 366.2L496.3 362.2M508.8 366.3L506.5 363.6M531.4 367.8L528.9 363.9M560.7 371.6L557.9 368.8M593.5 366.5L589.4 363.1M611.0 365.3L608.0 362.8M625.0 367.6L622.7 364.2M632.2 366.3L628.3 362.7M678.6 369.6L676.5 366.9M714.8 367.1L710.9 364.1M740.8 365.8L737.8 362.9M757.2 370.1L754.8 367.0M790.8 370.8L789.0 368.0M818.7 370.7L815.3 367.1M826.4 370.3L823.8 366.7M46.9 371.1L47.3 369.8M51.5 373.8L52.1 372.4M126.5 374.6L127.0 373.1M215.7 377.5L211.6 377.6M265.9 375.3L258.7 374.3M287.0 374.9L281.9 375.9M291.5 372.8L284.2 371.4M330.4 378.0L324.3 379.0M394.3 376.9L389.7 378.8M414.1 373.9L407.3 377.0M433.1 372.8L425.5 375.8M438.9 378.3L434.3 381.1M466.8 374.6L461.1 378.8M480.3 373.7L477.8 371.2M497.7 376.3L494.4 372.8M524.5 378.6L521.6 375.7M558.2 375.3L555.3 372.7M586.2 374.5L583.8 371.6M605.4 371.7L602.4 367.7M623.0 377.2L619.5 373.7M635.1 377.7L631.4 374.4M655.1 377.0L652.4 372.5M676.7 378.7L674.1 376.4M692.9 375.1L689.7 371.3M698.4 371.7L696.4 368.8M701.0 372.2L698.6 369.7M717.7 373.5L716.1 370.8M737.0 378.2L733.7 374.3M745.6 373.3L742.4 369.2M772.3 374.6L770.0 370.9M814.5 377.7L812.3 373.4M106.9 382.1L108.1 380.2M120.3 379.6L121.0 378.2M147.9 380.5L148.9 379.2M169.5 381.8L164.5 382.6M194.2 383.0L190.0 382.6M202.7 381.3L197.4 381.2M237.7 378.5L233.7 377.7M266.3 381.0L260.7 382.1M282.4 382.5L277.4 381.8M286.2 378.5L281.7 378.8M317.1 385.0L310.6 385.1M337.1 385.6L331.1 386.7M346.0 380.3L340.0 379.2M365.7 382.7L361.4 382.5M383.5 382.3L379.6 385.5M400.4 380.4L393.7 385.4M406.4 381.1L401.1 383.1M415.2 380.9L411.1 384.2M428.2 384.8L422.9 387.7M447.6 379.1L443.7 382.5M465.5 382.1L459.8 386.5M485.9 385.3L483.5 382.7M488.2 385.4L484.4 381.4M499.2 385.6L496.3 382.2M516.5 384.2L513.9 381.8M525.4 378.4L522.5 374.2M589.8 379.6L586.0 376.7M590.5 383.9L588.6 380.4M622.8 379.0L620.7 376.2M654.0 383.9L651.0 381.0M661.2 385.8L658.9 383.5M667.2 381.3L663.7 377.2M702.6 384.7L699.9 382.2M712.9 384.7L709.8 381.9M722.7 381.2L719.2 377.1M744.7 380.7L741.8 377.9M762.8 384.5L759.7 380.2M798.5 384.7L796.5 381.0M811.1 379.6L807.1 376.4M813.4 381.7L811.2 377.5M121.9 390.2L122.5 388.6M184.1 391.3L180.1 391.3M205.9 385.8L200.8 385.7M282.6 392.1L276.1 392.6M285.5 387.4L279.4 388.1M357.1 387.5L351.9 388.6M395.9 387.0L391.7 389.6M403.3 386.6L395.1 389.3M427.6 390.6L422.8 392.2M444.5 389.2L437.9 392.7M471.5 390.9L467.4 393.7M492.9 391.3L489.6 387.5M513.3 386.1L509.4 382.5M523.7 386.8L520.4 382.7M573.6 390.1L569.4 386.7M671.3 392.4L669.0 389.0M695.1 385.2L692.6 381.1M727.3 389.6L725.1 385.7M784.1 391.8L782.4 388.6M812.0 389.9L810.1 387.3M55.6 397.5L56.4 395.2M65.1 398.6L66.0 396.5M81.0 397.2L82.1 395.5M104.8 393.6L105.9 392.0M165.7 398.4L160.3 398.1M172.6 395.8L169.1 396.0M179.8 391.3L176.3 391.7M190.2 392.9L186.9 392.1M206.5 397.3L201.1 397.2M292.0 394.4L286.6 395.5M314.1 396.0L308.0 396.9M320.8 391.8L313.5 393.0M346.9 391.5L341.8 392.3M393.1 396.3L385.6 398.8M408.4 394.8L402.4 400.5M413.8 397.0L407.8 402.0M443.1 392.4L438.9 395.8M457.6 394.5L451.4 399.2M465.2 392.5L458.5 396.5M470.0 394.2L463.8 398.8M489.6 392.0L485.6 388.9M514.2 392.6L512.1 389.8M623.1 393.9L620.7 390.9M648.9 397.6L645.2 394.8M691.4 391.5L687.6 388.4M697.9 392.4L695.1 389.2M706.8 397.8L703.9 394.9M713.6 393.8L711.2 391.5M714.2 394.2L711.0 391.7M740.9 395.0L737.4 392.1M746.9 397.3L744.3 392.7M759.5 392.2L757.4 389.8M795.0 395.2L791.9 392.7M810.9 396.8L807.0 393.3M89.7 402.7L91.0 400.8M104.3 397.6L105.0 396.1M102.2 403.0L102.8 401.6M147.6 401.5L148.7 399.6M166.7 400.2L161.8 400.4M217.5 403.2L213.6 404.1M235.1 402.9L231.7 403.0M252.4 400.7L248.5 401.6M267.4 400.1L260.7 400.2M278.7 400.1L273.9 399.6M309.2 403.5L304.5 404.2M320.1 402.6L314.7 403.8M326.6 403.1L322.1 402.4M339.1 404.7L334.5 404.9M354.9 404.5L349.2 403.2M362.6 400.8L356.8 400.3M393.5 403.0L385.6 406.3M401.6 404.3L394.1 408.3M405.8 401.1L401.6 405.1M432.2 400.9L427.9 404.7M465.6 401.4L461.7 404.8M482.5 401.0L480.2 398.0M506.2 397.8L503.6 395.4M520.0 403.4L516.6 400.6M526.2 404.0L523.2 400.9M603.6 400.6L601.0 397.1M623.2 400.2L620.7 397.1M704.6 400.8L702.0 397.8M725.0 400.1L722.0 397.4M732.1 400.1L729.9 395.6M737.1 399.2L733.6 395.7M812.5 400.8L809.5 398.6M110.4 406.1L110.8 404.7M131.7 404.3L132.2 402.5M138.9 410.8L139.5 409.5M238.2 407.0L232.9 406.5M249.7 410.4L245.4 411.1M258.6 407.1L253.7 407.5M260.1 409.3L257.0 408.7M301.8 406.8L296.3 407.8M306.7 404.9L301.7 404.2M313.2 406.9L307.6 406.4M461.2 405.1L454.7 409.4M479.2 406.5L474.6 408.2M486.8 411.3L483.4 407.2M512.4 404.7L510.0 401.4M531.2 406.5L529.1 403.7M534.7 408.3L531.9 405.0M591.3 405.8L589.6 403.2M608.2 404.3L604.7 401.5M641.7 406.7L638.7 403.9M644.7 407.5L643.0 404.6M656.2 409.7L654.1 405.7M673.3 405.3L670.4 401.8M691.8 407.4L690.0 404.1M726.6 410.2L724.7 407.8M739.5 406.8L737.8 403.7M741.8 404.1L739.5 400.4M758.4 405.6L754.6 402.1M769.4 407.1L767.5 403.4M785.0 404.7L781.5 401.0M788.5 407.8L786.1 403.7M794.2 410.9L790.8 408.0M805.5 405.9L802.4 403.6M51.8 417.2L53.2 415.4M109.7 414.9L110.6 413.1M122.6 418.6L123.8 417.1M132.1 416.9L133.6 415.1M186.8 418.2L181.6 418.5M233.1 416.3L228.6 415.8M245.4 415.8L241.4 416.2M246.1 416.2L240.6 415.6M259.8 413.1L254.8 413.6M270.6 416.4L263.3 417.9M280.7 415.4L274.3 415.5M304.9 415.5L298.4 414.0M307.4 411.6L302.5 411.1M315.9 415.9L310.5 417.2M322.2 412.0L316.6 412.9M406.6 415.4L400.6 417.3M430.0 415.1L425.6 418.8M483.3 416.1L481.1 413.2M488.8 417.4L486.0 415.2M500.8 418.4L498.0 416.3M519.5 415.3L517.1 411.8M601.4 411.1L597.5 408.0M645.0 411.1L642.8 406.9M711.1 413.5L709.1 410.1M61.2 417.2L61.9 415.9M64.7 416.9L65.8 414.7M96.5 420.8L97.1 419.2M121.7 421.1L122.3 419.8M165.7 418.5L160.5 417.6M239.1 424.0L236.0 424.7M264.3 420.1L257.8 419.2M303.6 422.6L298.5 421.7M307.6 422.3L300.6 421.8M318.3 422.2L313.4 422.8M343.6 422.5L339.3 421.6M364.6 422.3L357.3 422.3M374.2 424.3L366.8 424.4M408.3 424.0L404.5 427.1M429.7 422.1L422.6 425.9M435.2 422.3L429.4 424.8M493.9 424.4L491.3 421.7M504.3 419.4L501.5 417.2M527.5 422.1L525.3 418.9M537.6 424.5L535.4 420.8M586.2 417.4L584.2 414.0M603.6 421.8L602.1 419.1M608.2 419.2L605.0 416.0M631.3 418.5L628.6 415.7M646.6 424.2L643.9 422.2M662.1 418.1L659.6 415.9M701.7 424.3L699.0 421.7M716.9 420.8L713.7 416.6M736.1 422.2L733.2 418.9M740.6 422.6L738.5 419.4M785.0 424.9L781.5 421.6M788.9 418.7L786.2 416.4M67.4 431.7L68.0 429.9M150.2 424.0L151.1 422.0M176.4 427.5L171.8 427.3M213.9 423.9L208.9 424.1M232.6 427.8L227.3 427.2M245.7 426.1L242.0 426.4M245.8 426.0L242.4 425.2M262.0 426.9L256.0 428.4M270.2 428.0L263.4 427.5M286.0 425.3L280.2 425.9M312.5 426.3L306.7 426.3M355.1 423.9L350.6 425.0M356.9 430.9L349.7 432.1M368.4 425.0L361.9 424.8M379.4 427.2L373.8 427.6M391.6 430.6L385.2 435.8M410.7 430.5L405.7 434.0M423.6 427.7L417.1 432.0M431.6 424.8L424.9 429.5M444.2 428.3L437.8 432.6M528.3 425.3L525.0 422.8M595.5 427.0L592.5 423.3M615.6 425.9L613.5 423.0M620.9 425.3L618.6 421.1M695.7 429.4L692.9 425.7M701.9 424.6L699.1 421.3M741.3 425.1L738.7 422.9M746.8 430.1L744.5 427.4M772.2 427.7L769.6 425.3M808.9 424.8L805.5 421.1M46.2 436.9L46.8 435.0M79.2 437.9L80.0 436.7M180.1 436.0L175.3 436.2M205.1 436.1L201.2 435.3M218.9 433.4L214.9 433.2M247.8 432.1L244.4 431.9M256.1 436.4L251.1 435.3M296.8 437.2L292.4 438.3M348.3 430.8L343.4 431.6M383.1 436.6L377.3 439.0M399.6 434.2L394.6 436.9M404.4 434.7L397.7 439.0M444.4 433.7L437.4 437.7M460.1 431.3L453.2 433.8M604.6 433.9L601.9 429.4M650.5 432.0L647.9 427.7M661.0 433.6L657.3 430.2M700.7 436.7L698.9 433.5M720.7 434.3L718.6 431.6M110.1 439.1L111.4 437.7M135.5 444.0L136.6 441.8M180.9 443.5L175.5 442.2M187.7 443.1L182.6 444.0M212.4 437.5L209.0 437.3M221.5 439.5L217.4 439.6M238.0 438.0L234.7 438.0M280.1 440.6L274.8 440.6M324.9 442.6L319.4 443.8M337.8 441.6L333.5 442.1M349.9 438.7L344.3 437.8M358.1 443.8L352.2 445.1M425.2 440.4L419.8 444.7M438.6 442.8L432.0 444.9M453.7 443.4L445.7 446.4M496.2 443.1L494.2 440.1M524.6 440.2L521.2 435.8M529.2 441.5L524.9 438.2M583.1 437.2L579.9 434.4M594.2 439.2L591.5 435.9M643.2 437.0L640.6 432.8M662.6 441.6L660.2 438.6M664.6 442.0L661.1 438.8M675.2 436.8L673.7 433.9M727.3 442.3L723.6 439.2M767.3 437.3L764.9 435.2M53.5 447.4L54.5 445.7M81.9 450.7L82.5 448.8M119.2 449.8L120.3 448.2M153.8 443.3L155.1 441.3M162.3 449.7L162.9 447.3M199.4 450.2L194.7 449.3M213.0 450.5L209.1 449.8M226.0 447.2L222.5 447.9M274.8 450.1L270.0 449.8M350.6 448.2L344.6 448.6M361.5 450.5L356.9 450.5M371.0 446.4L365.9 446.7M447.7 448.6L441.2 451.7M484.5 449.1L481.8 445.5M488.6 446.7L485.7 443.6M531.0 450.1L527.9 446.9M561.5 448.8L558.4 446.3M600.6 447.3L598.9 444.3M617.4 446.8L615.0 444.5M638.4 447.1L635.8 442.5M653.5 446.0L650.4 442.7M656.5 444.9L654.0 440.3M668.7 450.4L665.4 447.4M697.8 444.1L695.2 439.7M714.3 444.6L711.2 441.7M745.3 443.1L741.8 439.3M97.1 452.5L98.3 450.7M123.8 455.0L124.9 452.9M178.0 454.9L174.8 454.6M195.6 449.8L192.1 450.3M233.4 450.5L229.9 451.2M277.1 452.5L272.9 452.4M282.4 450.1L275.9 449.1M326.9 451.1L319.7 452.6M345.0 453.7L340.3 453.1M357.0 451.4L352.7 452.1M362.4 456.2L355.7 456.9M448.8 450.6L444.2 453.6M484.6 449.9L482.6 447.2M518.8 452.0L515.9 447.7M600.1 451.6L598.0 448.8M650.1 455.2L647.3 451.8M668.3 450.1L664.8 446.3M673.4 454.0L671.2 449.8M693.7 451.4L691.2 449.1M54.2 460.4L55.4 459.1M58.2 464.3L59.1 462.3M109.3 461.8L109.7 460.3M187.7 460.9L182.4 460.7M224.0 461.7L220.8 462.2M233.8 461.0L229.1 461.3M248.9 461.1L244.0 460.7M265.2 463.4L260.1 463.1M280.0 457.9L273.0 458.0M308.5 462.0L302.7 463.2M314.2 460.4L309.7 461.2M324.7 459.9L318.3 458.6M336.1 456.9L328.9 455.6M342.1 457.7L337.5 458.6M356.6 461.2L351.5 460.1M356.5 458.5L351.2 458.8M381.3 459.6L377.2 462.7M386.8 460.8L382.3 463.1M512.6 458.0L510.5 454.1M544.7 461.5L542.7 457.9M557.9 462.8L555.5 460.1M607.7 463.4L604.3 460.1M612.0 458.3L610.0 455.6M623.1 456.9L619.6 454.1M634.3 461.1L632.1 457.5M655.7 460.5L653.7 456.7M668.7 463.8L665.4 460.4M57.0 468.6L57.7 466.5M91.8 468.4L92.6 466.1M125.6 469.1L126.6 467.7M135.1 466.6L136.1 465.1M151.7 469.0L152.9 466.9M202.7 463.8L198.9 464.4M238.2 466.6L234.2 465.7M274.0 468.9L267.8 467.7M286.0 470.0L281.8 469.0M321.0 467.7L316.2 468.8M345.3 468.5L338.7 467.9M378.8 468.4L373.4 467.4M388.7 465.5L383.6 468.9M389.3 463.7L384.7 468.1M524.1 467.5L521.0 465.2M537.5 465.6L534.9 463.1M552.3 464.7L548.6 461.3M564.9 468.9L562.0 466.0M574.8 465.6L571.9 462.8M591.2 464.0L588.2 461.5M598.7 467.6L595.7 464.2M603.5 463.0L600.5 459.5M656.5 467.6L652.6 464.0M662.3 465.2L659.0 461.1M684.1 463.9L680.3 460.4M51.1 474.8L51.6 472.6M112.9 470.9L113.8 469.0M169.8 469.9L164.8 469.0M174.6 470.9L169.1 470.7M197.7 476.5L193.4 477.2M236.7 476.3L231.9 476.3M244.0 476.3L239.9 476.3M257.6 473.3L252.8 473.3M275.9 473.8L270.6 474.9M280.6 471.1L274.7 471.5M317.8 469.8L311.7 471.3M330.1 472.7L325.9 471.9M332.8 470.8L327.3 470.2M340.4 473.2L333.3 474.9M347.5 475.3L342.4 475.7M356.9 473.5L351.9 473.3M374.4 470.1L368.5 469.3M530.5 471.0L527.6 468.5M554.9 471.9L552.3 468.9M62.8 483.0L63.5 481.1M75.1 480.9L75.6 479.3M133.4 475.5L134.4 473.3M180.5 478.1L176.7 477.6M193.4 476.0L188.3 476.7M218.9 479.7L215.5 479.9M226.4 479.4L222.4 480.1M230.4 480.6L226.9 480.0M239.3 480.8L235.8 480.3M245.8 481.3L242.0 481.3M265.0 476.0L259.8 476.6M268.3 479.4L261.6 478.8M313.6 480.6L306.2 479.9M330.5 481.1L324.2 480.0M342.9 482.5L336.7 481.7M363.2 476.8L358.1 477.7M366.6 476.5L361.3 477.0M381.6 477.4L377.2 480.6M90.3 484.4L90.8 482.8M97.7 486.3L98.9 484.7M186.0 482.7L181.9 483.0M218.1 487.1L213.8 486.6M244.3 487.3L241.0 487.8M246.9 486.4L243.1 486.9M276.4 485.1L269.8 485.5M281.2 485.1L274.6 484.4M317.7 482.8L312.8 482.1M343.4 487.3L338.2 488.1M350.1 483.5L345.0 483.5M357.9 482.5L351.1 484.0M375.8 484.7L368.4 484.3M390.7 486.3L384.3 488.9M77.6 488.4L78.6 486.8M93.0 495.5L93.6 493.3M119.1 492.4L119.7 491.0M249.9 496.2L245.0 497.4M254.8 489.8L250.7 490.6M271.4 489.6L264.9 489.3M303.6 490.5L298.0 490.3M346.4 493.7L340.2 493.6M389.2 490.9L384.1 495.9M117.2 499.7L117.8 497.4M124.8 501.8L125.6 500.0M130.5 498.1L131.6 496.2M143.0 496.4L144.2 494.6M145.1 498.9L146.2 497.2M224.7 499.4L219.4 500.3M277.0 495.9L271.1 496.2M287.4 501.8L282.4 501.7M343.9 502.5L338.4 502.1M49.8 502.8L51.1 501.4M62.6 502.8L63.7 501.2M72.5 507.7L73.3 506.3M82.7 503.9L83.9 502.6M110.0 506.0L111.3 504.2M124.4 507.0L125.3 505.0M128.7 501.0L129.5 499.4M156.2 502.5L156.8 501.1M188.1 505.5L184.1 505.9M253.3 503.3L248.2 503.2M260.7 505.7L256.7 505.7M268.3 502.7L261.3 503.3M278.0 508.7L271.9 507.9M296.5 502.7L289.3 502.4M305.9 507.1L301.2 507.4M317.5 506.5L311.1 505.8M77.9 510.8L78.6 509.6M78.4 513.5L79.4 511.5M97.9 509.2L99.1 507.4M110.5 514.4L111.1 512.0M125.4 516.0L126.6 514.1M177.1 511.7L173.3 511.0M189.6 510.2L185.7 509.4M214.6 509.0L209.4 508.8M276.9 512.7L270.8 511.6M101.5 517.7L102.7 515.7M129.5 518.8L130.5 516.6M169.2 520.8L164.2 519.7M186.4 520.5L182.6 520.3M193.2 520.5L189.2 520.2M197.6 520.9L194.3 521.3M247.0 516.9L241.9 516.6M264.6 515.5L259.1 516.5M233.2 523.5L228.1 523.3M243.8 528.2L240.5 528.4M253.7 526.7L249.4 526.6M261.7 525.6L258.4 525.5M270.4 526.1L263.8 524.9M70.5 529.6L71.4 528.2M90.0 528.5L91.0 527.3M134.8 535.8L136.2 534.2M151.2 535.2L152.5 533.1M167.8 527.9L163.3 527.1M169.3 534.5L164.6 533.9M174.8 528.3L171.3 528.3M211.7 533.5L208.5 532.8M230.7 529.6L225.6 528.4M277.9 528.4L271.9 528.1M47.3 537.1L48.0 535.4M52.8 538.8L53.4 537.5M95.7 541.9L96.6 539.8M103.1 538.6L103.5 537.1M150.1 538.6L151.1 537.0M167.8 537.3L164.6 537.5M187.9 539.6L182.8 538.7M199.8 535.9L196.6 536.4M243.3 540.5L238.7 540.6M250.3 535.6L246.0 535.6M273.9 539.6L268.9 539.1M52.1 542.7L53.3 540.9M106.5 542.2L107.5 540.5M140.7 547.9L141.7 545.8M155.9 546.0L156.6 544.6M175.0 541.8L171.8 542.2M196.1 544.1L192.9 543.5M203.0 547.4L198.2 547.7M215.4 547.5L210.8 547.8M246.8 547.7L243.1 548.0M272.2 544.9L265.4 543.9M129.0 552.6L129.5 550.8M169.7 549.2L166.5 548.6M213.2 550.9L209.5 550.3M227.3 547.6L222.1 548.5M252.2 553.0L247.4 552.5M252.5 547.7L248.1 547.3M90.4 555.2L91.6 553.8M101.7 555.7L102.9 553.9M152.2 556.2L152.8 554.8M156.3 555.8L157.8 553.9M230.2 558.5L225.8 558.6M245.5 559.1L240.8 558.7M129.0 565.9L130.1 564.4M131.1 562.3L131.9 560.0M159.6 564.0L160.1 561.9M168.0 564.0L169.0 562.6M175.6 563.0L176.4 561.0M210.7 567.8L211.4 566.0M55.1 574.0L55.9 572.5M123.4 574.7L124.6 572.7M129.2 571.5L129.7 569.6M130.6 573.1L131.3 571.4M176.3 567.6L177.2 565.4M188.9 568.2L190.2 566.2M252.9 566.9L254.0 564.9M90.8 575.6L92.0 574.3M118.8 577.3L119.8 575.9M163.8 574.2L164.7 572.7M198.8 574.3L199.3 572.5M57.3 586.5L58.2 584.8M142.4 582.8L144.0 581.0M176.6 582.7L177.2 581.2M197.4 579.2L197.9 577.9M279.6 581.6L272.6 582.8M286.2 586.2L280.2 585.4M84.3 591.2L85.2 589.0M86.6 592.4L87.8 591.0M185.4 591.9L186.8 590.0M274.8 586.8L270.2 587.0M283.5 591.5L277.8 590.7M304.5 592.7L299.1 591.9M305.2 592.0L298.7 593.4M46.1 593.6L47.5 591.7M64.8 592.2L66.2 590.2M88.2 599.4L89.7 597.5M95.1 598.0L96.3 596.3M97.0 597.9L97.6 596.0M181.6 595.2L182.9 593.5M195.2 599.6L196.0 598.1M283.1 593.0L277.0 594.2M114.3 605.9L114.9 604.3M128.4 598.8L129.3 597.5M71.1 608.1L71.7 606.5M69.6 610.8L70.7 609.3M82.6 609.9L83.3 607.9M132.5 607.9L133.3 606.0M47.0 619.8L48.0 618.7M66.3 612.0L67.3 610.4M109.0 612.8L109.4 611.0M120.9 619.5L121.7 617.4M148.0 616.5L148.8 615.4M188.4 615.4L189.5 613.5M93.2 619.7L94.1 618.4M125.0 622.0L125.7 620.0M142.0 619.9L142.9 617.6M148.3 620.1L149.0 617.8M154.4 624.0L155.6 622.2M168.8 626.3L169.8 625.1M197.2 620.9L197.9 618.7M73.2 632.9L74.6 631.2M98.5 632.3L99.2 630.8M130.3 631.0L131.4 628.8M177.5 631.7L178.9 629.6M193.9 632.3L194.6 631.0M99.5 631.5L100.1 629.7M154.6 635.0L155.4 633.6M166.6 639.9L167.1 638.5M179.8 631.4L180.7 630.2M209.4 632.5L210.0 630.4M67.8 638.5L68.5 636.7M71.4 645.4L72.3 643.5M94.9 639.8L96.0 638.3M122.3 641.7L123.6 639.7M137.0 642.4L138.2 640.3M182.4 644.0L183.1 641.7M76.6 645.5L77.7 644.0M138.6 652.3L139.4 650.4M71.2 654.6L72.6 652.9M78.1 657.3L79.2 655.8M121.8 651.6L122.3 649.4M155.3 653.2L156.2 651.5M188.7 650.7L189.8 649.5M50.7 660.6L51.2 658.6M90.9 657.4L91.6 656.1M123.3 659.4L124.0 658.1M143.2 660.4L143.8 658.2" stroke="#000" stroke-width="1.05" fill="none" stroke-linecap="square"/>
<g fill="#fff" stroke="none">
<polygon points="610.0,192.0 614.0,190.0 620.0,197.0 616.0,200.0 611.0,198.0"/>
<polygon points="622.0,181.0 628.0,180.0 627.0,186.0 623.0,186.0"/>
<polygon points="637.0,182.0 645.0,184.0 652.0,180.0 655.0,185.0 648.0,191.0 640.0,190.0"/>
<polygon points="618.0,206.0 628.0,206.0 636.0,209.0 641.0,212.0 636.0,213.0 626.0,210.0 618.0,209.0"/>
<polygon points="645.0,219.0 651.0,219.0 653.0,226.0 648.0,226.0"/>
<polygon points="684.0,194.0 689.0,193.0 690.0,200.0 685.0,199.0"/>
<polygon points="687.0,207.0 694.0,208.0 696.0,217.0 690.0,218.0"/>
<polygon points="712.0,207.0 718.0,208.0 721.0,219.0 715.0,220.0"/>
<polygon points="700.0,227.0 708.0,229.0 713.0,235.0 705.0,236.0"/>
<polygon points="725.0,183.0 731.0,182.0 735.0,196.0 729.0,195.0"/>
<polygon points="668.0,173.0 674.0,174.0 675.0,178.0 669.0,178.0"/>
<polygon points="272.0,217.0 278.0,218.0 283.0,232.0 281.0,245.0 276.0,240.0 274.0,226.0"/>
<polygon points="304.0,233.0 312.0,236.0 318.0,246.0 320.0,257.0 314.0,256.0 308.0,246.0"/>
<polygon points="436.0,196.0 442.0,197.0 445.0,209.0 439.0,210.0"/>
<polygon points="170.0,255.0 174.0,257.0 175.0,266.0 171.0,265.0"/>
<polygon points="178.0,301.0 186.0,303.0 187.0,310.0 180.0,309.0"/>
<polygon points="755.0,190.0 765.0,186.0 769.0,200.0 762.0,205.0"/>
<polygon points="793.0,148.0 798.0,150.0 798.0,157.0 794.0,156.0"/>
<polygon points="812.0,162.0 820.0,164.0 821.0,176.0 814.0,174.0"/>
<polygon points="826.0,248.0 832.0,256.0 842.0,262.0 850.0,264.0 840.0,267.0 828.0,259.0"/>
<polygon points="470.0,191.0 476.0,192.0 477.0,198.0 471.0,197.0"/>
<polygon points="492.0,198.0 497.0,199.0 497.0,205.0 493.0,204.0"/>
<polygon points="762.0,462.0 768.0,470.0 773.0,486.0 769.0,488.0 764.0,474.0"/>
<polygon points="824.0,427.0 842.0,432.0 864.0,438.0 862.0,440.0 842.0,435.0 824.0,430.0"/>
</g>
<g fill="none" stroke="#000" stroke-width="0.9">
<polyline points="400.0,215.0 402.0,230.0 398.0,240.0 404.0,250.0 402.0,262.0"/>
<polyline points="447.0,205.0 452.0,220.0 449.0,232.0 455.0,242.0 458.0,253.0"/>
<polyline points="175.0,262.0 185.0,262.0 192.0,268.0 200.0,272.0"/>
<polyline points="182.0,305.0 190.0,312.0 195.0,320.0 200.0,324.0"/>
<polyline points="226.0,270.0 234.0,274.0 240.0,281.0"/>
<polyline points="796.0,246.0 806.0,250.0 812.0,258.0 806.0,266.0 816.0,270.0 810.0,278.0 820.0,286.0"/>
<polyline points="810.0,297.0 822.0,296.0 834.0,300.0 846.0,298.0 855.0,304.0"/>
<polyline points="834.0,300.0 832.0,312.0 820.0,324.0"/>
</g>
<g fill="none" stroke="#ff22ff" stroke-width="1.1">
<circle cx="208.8" cy="41.2" r="6.8"/>
<circle cx="227.5" cy="163.5" r="6.8"/>
<circle cx="200.2" cy="200.3" r="6.8"/>
<circle cx="237.5" cy="237.1" r="6.8"/>
<circle cx="302.5" cy="232.3" r="6.8"/>
<circle cx="368.9" cy="209.9" r="6.8"/>
<circle cx="462.5" cy="164.5" r="6.8"/>
<circle cx="128.6" cy="314" r="6.8"/>
<circle cx="712.5" cy="72.8" r="6.8"/>
<circle cx="760.8" cy="96.2" r="6.8"/>
<circle cx="779.4" cy="127.7" r="6.8"/>
<circle cx="668.1" cy="137.3" r="6.8"/>
<circle cx="690" cy="159.7" r="6.8"/>
<circle cx="760.3" cy="182.2" r="6.8"/>
<circle cx="850.1" cy="164" r="6.8"/>
<circle cx="815.2" cy="219.4" r="6.8"/>
<circle cx="850.1" cy="250.5" r="6.8"/>
<circle cx="597.8" cy="205.1" r="6.8"/>
<circle cx="672.4" cy="263.4" r="6.8"/>
<circle cx="507.5" cy="291.1" r="6.8"/>
<circle cx="649.4" cy="327.5" r="6.8"/>
<circle cx="466.9" cy="409.8" r="6.8"/>
<circle cx="637" cy="451.4" r="6.8" fill="#00b23c"/>
<circle cx="601.7" cy="469.1" r="6.8"/>
<circle cx="730.2" cy="432.3" r="6.8" fill="#00b23c"/>
<circle cx="770.3" cy="428.5" r="6.8"/>
<circle cx="287.7" cy="349.6" r="6.8" fill="#02b880"/>
<circle cx="249.4" cy="364" r="6.8" fill="#02b880"/>
<circle cx="334.5" cy="378.3" r="6.8" fill="#02b880"/>
<circle cx="155.8" cy="405" r="6.8"/>
<circle cx="361.3" cy="414.1" r="6.8" fill="#02b880"/>
<circle cx="422.4" cy="432.8" r="6.8"/>
<circle cx="303" cy="455.2" r="6.8" fill="#02b880"/>
<circle cx="312.5" cy="487.2" r="6.8" fill="#02b880"/>
<circle cx="347.4" cy="501.6" r="6.8" fill="#02b880"/>
<circle cx="239.9" cy="510.2" r="6.8" fill="#02b880"/>
<circle cx="285.3" cy="518.8" r="6.8" fill="#02b880"/>
<circle cx="351.2" cy="525.4" r="6.8" fill="#02b880"/>
<circle cx="276.7" cy="555.1" r="6.8" fill="#02b880"/>
<circle cx="195.9" cy="573.2" r="6.8"/>
<circle cx="173" cy="637.7" r="6.8"/>
</g>
<path d="M374.1 406.1L383.8 401.2" stroke="#ff00ff" stroke-width="3.2"/>
<path d="M370.4 417.1L379 412.8" stroke="#ff00ff" stroke-width="3.2"/>
<path d="M386.3 417.2L397.9 415.9" stroke="#ff00ff" stroke-width="3.2"/>
<path d="M410.1 423.6L424.8 425.6" stroke="#ff00ff" stroke-width="3.2"/>
<path d="M386.3 436.6L404.6 431.7" stroke="#ff00ff" stroke-width="3.2"/>
<path d="M445.6 388.3L452.9 382.2" stroke="#ff00ff" stroke-width="3.2"/>
<path d="M447 397.2l8 8M455 397.2l-8 8M336.2 533.6h8M340.2 529.6v8" stroke="#ff00ff" stroke-width="1.4"/>
<rect x="277.5" y="425" width="4" height="2.5" fill="#ff00ff"/>
</g>
<path d="M44.5 14.5V669.5H873" fill="none" stroke="#262626" stroke-width="1"/>
<g font-family="DejaVu Sans, sans-serif" font-size="12.8" fill="#262626" text-anchor="middle">
<text x="71.5" y="687.7">129.8</text>
<text x="124.9" y="687.7">130</text>
<text x="178.4" y="687.7">130.2</text>
<text x="231.8" y="687.7">130.4</text>
<text x="285.2" y="687.7">130.6</text>
<text x="338.6" y="687.7">130.8</text>
<text x="392.1" y="687.7">131</text>
<text x="445.5" y="687.7">131.2</text>
<text x="498.9" y="687.7">131.4</text>
<text x="552.4" y="687.7">131.6</text>
<text x="605.8" y="687.7">131.8</text>
<text x="659.2" y="687.7">132</text>
<text x="712.7" y="687.7">132.2</text>
<text x="766.1" y="687.7">132.4</text>
<text x="819.5" y="687.7">132.6</text>
</g>
<g font-family="DejaVu Sans, sans-serif" font-size="12.8" fill="#262626" text-anchor="end">
<text x="38.5" y="73.6">-10.8</text>
<text x="38.5" y="128.5">-11</text>
<text x="38.5" y="183.4">-11.2</text>
<text x="38.5" y="238.3">-11.4</text>
<text x="38.5" y="293.2">-11.6</text>
<text x="38.5" y="348.1">-11.8</text>
<text x="38.5" y="403.0">-12</text>
<text x="38.5" y="457.9">-12.2</text>
<text x="38.5" y="512.8">-12.4</text>
<text x="38.5" y="567.7">-12.6</text>
<text x="38.5" y="622.6">-12.8</text>
</g>
<g font-family="DejaVu Sans, sans-serif" font-size="15.6">
<path d="M331.5 287.5H357M331.5 287.5l7 -2.2M331.5 287.5l7 2.2" stroke="#000" stroke-width="1" fill="none"/>
<text x="366" y="292.8" fill="#111">velocity</text>
<path d="M338 304H357" stroke="#ff00ff" stroke-width="4"/><path d="M331 304l9 -4v8z" fill="#ff00ff"/>
<text x="366" y="308.8" fill="#ff00ff">current meter</text>
<text x="337.5" y="326.6" fill="#111">2 (m/s)</text>
</g>
<g font-family="DejaVu Sans, sans-serif" font-size="16" fill="#111">
<text x="391.8" y="535.8">12-06-2025 03:30 UTC</text>
<text x="391.8" y="552.2">12-06-2025 13:00 ACST</text>
</g>
<circle cx="392.2" cy="581.5" r="6.3" fill="#00c800" stroke="#ff00ff" stroke-width="1.3"/>
<text x="408.5" y="586.4" font-family="DejaVu Sans, sans-serif" font-size="15.6" fill="#111">tide gauge</text>
<rect x="339.00" y="632.7" width="3.98" height="10.3" fill="#00007f"/>
<rect x="342.68" y="632.7" width="3.98" height="10.3" fill="#00008a"/>
<rect x="346.36" y="632.7" width="3.98" height="10.3" fill="#000096"/>
<rect x="350.04" y="632.7" width="3.98" height="10.3" fill="#0000a1"/>
<rect x="353.72" y="632.7" width="3.98" height="10.3" fill="#0000ad"/>
<rect x="357.40" y="632.7" width="3.98" height="10.3" fill="#0000b8"/>
<rect x="361.08" y="632.7" width="3.98" height="10.3" fill="#0000c4"/>
<rect x="364.76" y="632.7" width="3.98" height="10.3" fill="#0000d0"/>
<rect x="368.43" y="632.7" width="3.98" height="10.3" fill="#0010dc"/>
<rect x="372.11" y="632.7" width="3.98" height="10.3" fill="#0020e8"/>
<rect x="375.79" y="632.7" width="3.98" height="10.3" fill="#0038f4"/>
<rect x="379.47" y="632.7" width="3.98" height="10.3" fill="#0050ff"/>
<rect x="383.15" y="632.7" width="3.98" height="10.3" fill="#0068ff"/>
<rect x="386.83" y="632.7" width="3.98" height="10.3" fill="#0080ff"/>
<rect x="390.51" y="632.7" width="3.98" height="10.3" fill="#0098ff"/>
<rect x="394.19" y="632.7" width="3.98" height="10.3" fill="#00b0ff"/>
<rect x="397.87" y="632.7" width="3.98" height="10.3" fill="#00c4f0"/>
<rect x="401.55" y="632.7" width="3.98" height="10.3" fill="#00cce0"/>
<rect x="405.23" y="632.7" width="3.98" height="10.3" fill="#00ccd0"/>
<rect x="408.91" y="632.7" width="3.98" height="10.3" fill="#00c8c0"/>
<rect x="412.59" y="632.7" width="3.98" height="10.3" fill="#00c4b0"/>
<rect x="416.27" y="632.7" width="3.98" height="10.3" fill="#00c0a0"/>
<rect x="419.94" y="632.7" width="3.98" height="10.3" fill="#00bc90"/>
<rect x="423.62" y="632.7" width="3.98" height="10.3" fill="#00b880"/>
<rect x="427.30" y="632.7" width="3.98" height="10.3" fill="#00b470"/>
<rect x="430.98" y="632.7" width="3.98" height="10.3" fill="#00b060"/>
<rect x="434.66" y="632.7" width="3.98" height="10.3" fill="#00b450"/>
<rect x="438.34" y="632.7" width="3.98" height="10.3" fill="#00b840"/>
<rect x="442.02" y="632.7" width="3.98" height="10.3" fill="#00bc34"/>
<rect x="445.70" y="632.7" width="3.98" height="10.3" fill="#00c028"/>
<rect x="449.38" y="632.7" width="3.98" height="10.3" fill="#00c420"/>
<rect x="453.06" y="632.7" width="3.98" height="10.3" fill="#00c81c"/>
<rect x="456.74" y="632.7" width="3.98" height="10.3" fill="#10d400"/>
<rect x="460.42" y="632.7" width="3.98" height="10.3" fill="#30dc00"/>
<rect x="464.10" y="632.7" width="3.98" height="10.3" fill="#50e400"/>
<rect x="467.78" y="632.7" width="3.98" height="10.3" fill="#70ec00"/>
<rect x="471.46" y="632.7" width="3.98" height="10.3" fill="#90f000"/>
<rect x="475.13" y="632.7" width="3.98" height="10.3" fill="#b0f400"/>
<rect x="478.81" y="632.7" width="3.98" height="10.3" fill="#d0f800"/>
<rect x="482.49" y="632.7" width="3.98" height="10.3" fill="#e8f400"/>
<rect x="486.17" y="632.7" width="3.98" height="10.3" fill="#f8e800"/>
<rect x="489.85" y="632.7" width="3.98" height="10.3" fill="#ffd800"/>
<rect x="493.53" y="632.7" width="3.98" height="10.3" fill="#ffc800"/>
<rect x="497.21" y="632.7" width="3.98" height="10.3" fill="#ffb800"/>
<rect x="500.89" y="632.7" width="3.98" height="10.3" fill="#f8a800"/>
<rect x="504.57" y="632.7" width="3.98" height="10.3" fill="#f09800"/>
<rect x="508.25" y="632.7" width="3.98" height="10.3" fill="#e88800"/>
<rect x="511.93" y="632.7" width="3.98" height="10.3" fill="#e07800"/>
<rect x="515.61" y="632.7" width="3.98" height="10.3" fill="#d86800"/>
<rect x="519.29" y="632.7" width="3.98" height="10.3" fill="#d05800"/>
<rect x="522.97" y="632.7" width="3.98" height="10.3" fill="#c84800"/>
<rect x="526.64" y="632.7" width="3.98" height="10.3" fill="#c03800"/>
<rect x="530.32" y="632.7" width="3.98" height="10.3" fill="#b82800"/>
<rect x="534.00" y="632.7" width="3.98" height="10.3" fill="#b01800"/>
<rect x="537.68" y="632.7" width="3.98" height="10.3" fill="#a80c00"/>
<rect x="541.36" y="632.7" width="3.98" height="10.3" fill="#a00000"/>
<rect x="545.04" y="632.7" width="3.98" height="10.3" fill="#980000"/>
<rect x="548.72" y="632.7" width="3.98" height="10.3" fill="#900000"/>
<path d="M387 632.7v2.2M387 643v-2.2M445.7 632.7v2.2M445.7 643v-2.2M503.9 632.7v2.2M503.9 643v-2.2" stroke="#000" stroke-width="1"/>
<g font-family="DejaVu Sans, sans-serif" font-size="15.6" fill="#111" text-anchor="middle">
<text x="386" y="665.5">-2</text><text x="445.7" y="665.5">0</text><text x="503.9" y="665.5">2</text>
</g>
<text x="444.6" y="625.8" font-family="DejaVu Sans, sans-serif" font-size="17.4" fill="#111" text-anchor="middle">tidal sea level (m)</text>
<path d="M257.6 633.4H290.6" stroke="#00e0e0" stroke-width="1.2"/>
<text x="258.5" y="646.5" font-family="DejaVu Sans, sans-serif" font-size="13" fill="#111">200m</text>
<rect x="589" y="558" width="289" height="116" fill="#fff"/>
<path d="M589.5 558V673.5H876" stroke="#000" stroke-width="1" fill="none"/>
<path d="M618.5 558.5V655 M655.7 558.5V655 M693.0 558.5V655 M730.3 558.5V655 M767.6 558.5V655 M804.9 558.5V655 M842.2 558.5V655 M612.5 565.0H854.5 M612.5 591.4H854.5 M612.5 617.8H854.5 M612.5 644.2H854.5" stroke="#aab4e0" stroke-width="0.8" stroke-dasharray="1.2 1.6" fill="none"/>
<rect x="612.5" y="558.5" width="241.8" height="96.8" stroke="#000" stroke-width="1.1" fill="none"/>
<path d="M612.5 632.9C614.5 633.6 620.9 638.0 624.6 637.2C628.4 636.4 631.6 632.9 635.0 628.0C638.4 623.1 641.7 613.0 645.0 608.0C648.3 603.0 652.1 599.9 655.0 598.0C657.9 596.1 659.9 596.4 662.4 596.4C664.9 596.4 667.1 596.1 670.0 598.0C672.9 599.9 677.0 605.0 680.0 608.0C683.0 611.0 685.5 613.9 688.0 615.7C690.5 617.5 692.4 618.0 695.0 619.0C697.6 620.0 700.9 621.9 703.7 621.7C706.5 621.5 709.0 620.5 712.0 618.0C715.0 615.5 718.5 610.5 722.0 607.0C725.5 603.5 729.7 598.5 733.0 597.3C736.3 596.1 738.3 596.5 742.0 600.0C745.7 603.5 750.8 612.5 755.0 618.0C759.2 623.5 763.3 629.7 767.0 633.0C770.7 636.3 774.0 638.3 777.3 637.8C780.6 637.3 783.5 635.0 787.0 630.0C790.5 625.0 794.5 613.5 798.0 608.0C801.5 602.5 805.0 599.1 808.0 597.0C811.0 594.9 812.9 595.2 815.7 595.5C818.5 595.8 821.8 597.1 825.0 599.0C828.2 600.9 831.7 604.5 835.0 607.0C838.3 609.5 841.9 612.2 845.0 614.0C848.1 615.8 852.3 617.0 853.8 617.6" stroke="#0000ff" stroke-width="1.1" fill="none"/>
<path d="M612.5 641.5C613.8 642.2 617.6 645.6 620.0 646.0C622.4 646.4 624.7 646.3 627.0 644.0C629.3 641.7 631.7 637.0 634.0 632.0C636.3 627.0 638.7 619.8 641.0 614.0C643.3 608.2 645.7 601.3 648.0 597.0C650.3 592.7 653.0 589.7 655.0 588.0C657.0 586.3 658.2 586.7 660.0 587.0C661.8 587.3 663.7 587.8 666.0 590.0C668.3 592.2 671.3 596.3 674.0 600.0C676.7 603.7 679.3 608.5 682.0 612.0C684.7 615.5 687.3 618.7 690.0 621.0C692.7 623.3 695.5 625.1 698.0 625.6C700.5 626.1 702.5 625.6 705.0 624.0C707.5 622.4 710.3 619.5 713.0 616.0C715.7 612.5 718.5 607.0 721.0 603.0C723.5 599.0 725.7 594.5 728.0 592.0C730.3 589.5 732.2 588.0 735.0 588.0C737.8 588.0 741.7 588.0 745.0 592.0C748.3 596.0 751.7 604.3 755.0 612.0C758.3 619.7 762.2 632.2 765.0 638.0C767.8 643.8 769.5 646.0 772.0 646.7C774.5 647.4 776.7 647.3 780.0 642.0C783.3 636.7 788.2 623.3 792.0 615.0C795.8 606.7 799.8 596.9 803.0 592.0C806.2 587.1 808.2 586.1 811.0 585.6C813.8 585.1 816.8 585.9 820.0 589.0C823.2 592.1 826.7 599.3 830.0 604.0C833.3 608.7 837.0 613.7 840.0 617.0C843.0 620.3 845.7 622.5 848.0 624.0C850.3 625.5 853.0 625.4 854.0 625.7" stroke="#ff00ff" stroke-width="1.1" fill="none"/>
<path d="M612.5 642.3C613.6 643.0 617.2 645.7 619.4 646.3C621.5 646.9 623.1 647.5 625.4 645.8C627.7 644.1 630.5 641.0 633.2 636.3C635.9 631.6 638.9 623.7 641.8 617.4C644.7 611.1 647.8 602.8 650.4 598.4C653.0 594.0 655.3 592.3 657.3 590.7C659.3 589.1 660.4 588.7 662.4 589.0C664.4 589.3 667.0 589.7 669.3 592.4C671.6 595.1 673.9 601.1 676.2 605.3C678.5 609.5 680.8 613.7 683.1 617.4C685.4 621.1 687.3 624.9 689.9 627.7C692.5 630.5 695.9 633.2 698.5 634.2C701.1 635.2 702.8 635.1 705.4 633.7C708.0 632.3 711.1 629.9 714.0 626.0C716.9 622.1 720.0 614.8 722.6 610.5C725.2 606.2 727.2 602.4 729.5 600.2C731.8 598.0 733.5 596.8 736.4 597.3C739.3 597.8 743.5 598.7 747.1 603.3C750.7 607.9 754.2 617.9 757.8 624.7C761.3 631.5 765.4 640.2 768.4 644.2C771.4 648.2 772.9 648.8 775.6 648.5C778.3 648.2 780.9 648.1 784.4 642.4C787.9 636.6 793.0 622.3 796.9 614.0C800.8 605.7 804.4 597.2 807.6 592.7C810.9 588.2 813.5 587.3 816.4 587.3C819.3 587.3 822.0 588.2 825.3 592.7C828.6 597.2 832.4 607.5 836.0 614.0C839.6 620.5 843.7 628.2 846.7 631.8C849.7 635.3 852.6 634.7 853.8 635.3" stroke="#000" stroke-width="1.1" fill="none"/>
<path d="M615.3 566.5H635.3" stroke="#000" stroke-width="1"/><path d="M615.3 575H635.3" stroke="#0000ff" stroke-width="2.2"/><path d="M615.3 583H635.3" stroke="#ff00ff" stroke-width="1"/>
<g font-family="DejaVu Sans, sans-serif" font-size="10.6" fill="#111">
<text x="639.8" y="569.7">vel (m/s, 90T) at x 12.02S 131.22E</text>
<text x="639.8" y="578.8">height (m, scale at right) at x</text>
<text x="639.8" y="587.2">height (m) at + 12.5S 130.8E</text>
</g>
<g font-family="DejaVu Sans, sans-serif" font-size="10.6" fill="#111" text-anchor="end">
<text x="609" y="568.8">2</text>
<text x="609" y="595.2">1</text>
<text x="609" y="621.6">0</text>
<text x="609" y="648.0">-1</text>
</g>
<g font-family="DejaVu Sans, sans-serif" font-size="10.6" fill="#111">
<text x="857.3" y="576.8">4</text>
<text x="857.3" y="597.5">2</text>
<text x="857.3" y="618.2">0</text>
<text x="857.3" y="639.1">-2</text>
<text x="857.3" y="659.0">-4</text>
</g>
<g font-family="DejaVu Sans, sans-serif" font-size="10.6" fill="#111" text-anchor="middle">
<text x="616.5" y="667.7">-12</text>
<text x="653.7" y="667.7">-6</text>
<text x="693.0" y="667.7">0</text>
<text x="730.3" y="667.7">6</text>
<text x="767.6" y="667.7">12</text>
<text x="804.9" y="667.7">18</text>
<text x="842.2" y="667.7">24</text>
</g>
<text transform="translate(894.5 652) rotate(-90)" font-family="DejaVu Sans, sans-serif" font-size="13" fill="#111">© IMOS 06-Jun-2025 10:42:25 out71_13c . *Not for navigation*</text>
</svg>
</body></html>
